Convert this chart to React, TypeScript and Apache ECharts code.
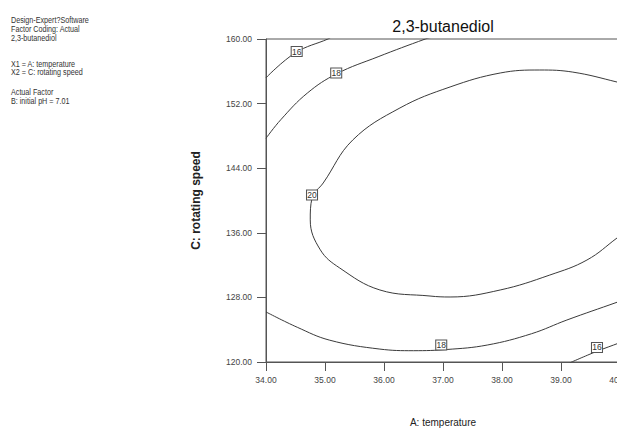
import React, { useEffect, useRef } from "react";
import * as echarts from "echarts";

// Axis ranges / ticks
const xMin = 34, xMax = 40, xStep = 1;
const yMin = 120, yMax = 160, yStep = 8;

// Contour lines: [temperature, rotating speed]
const contour16Top = [[34, 155.2], [34.5, 158.3], [35.05, 160], [35.1, 160.2]];
const contour18Top = [[34, 147.7], [34.25, 150.0], [34.7, 153.3], [35.2, 155.7], [35.9, 157.8], [36.7, 160], [36.8, 160.2]];
const contour20 = [
  [40.1, 154.3], [39.95, 154.67], [39.2, 155.9], [38.64, 156.16], [37.97, 155.79],
  [37.12, 154.06], [36.27, 151.46], [35.47, 147.49], [34.97, 142.17], [34.78, 140.3],
  [34.75, 137.6], [34.92, 133.9], [35.25, 131.64], [35.93, 128.92], [36.78, 128.17],
  [37.12, 128.05], [37.97, 128.92], [38.81, 130.77], [39.44, 132.63], [39.95, 135.36], [40.1, 136.2],
];
const contour18Bottom = [
  [34, 126.2], [34.53, 124.3], [35.08, 122.7], [35.93, 121.6], [36.5, 121.4],
  [37.07, 121.55], [37.75, 122.1], [38.5, 123.5], [39.1, 125.2], [39.95, 127.4], [40.1, 127.8],
];
const contour16Bottom = [[39.15, 119.9], [39.6, 121.3], [40, 122.4], [40.1, 122.7]];

// Contour value labels: [x, y, level]
const contourLabels = [
  [34.52, 158.45, 16],
  [35.19, 155.79, 18],
  [34.78, 140.68, 20],
  [36.97, 122.11, 18],
  [39.61, 121.8, 16],
];

const titleText = "2,3-butanediol";
const infoLines = [
  { text: "Design-Expert?Software", y: 20 },
  { text: "Factor Coding: Actual", y: 29 },
  { text: "2,3-butanediol", y: 38 },
  { text: "X1 = A: temperature", y: 64 },
  { text: "X2 = C: rotating speed", y: 72 },
  { text: "Actual Factor", y: 92 },
  { text: "B: initial pH = 7.01", y: 101 },
];

const FONT = "'Liberation Sans', Arial, sans-serif";
const NARROW = "'Liberation Sans Narrow', 'Liberation Sans', Arial, sans-serif";
const LINE = "#3a3a3a";

export default function App() {
  const ref = useRef<HTMLDivElement>(null);
  useEffect(() => {
    if (!ref.current) return;
    const chart = echarts.init(ref.current, undefined, { renderer: "svg" });
    const lineSeries = (data: number[][]) => ({
      type: "line",
      data,
      smooth: 0.4,
      showSymbol: false,
      symbol: "none",
      lineStyle: { color: LINE, width: 1 },
      silent: true,
      z: 2,
    });
    chart.setOption({
      animation: false,
      backgroundColor: "#ffffff",
      grid: {
        left: 266, top: 39, width: 354, height: 323,
        outerBoundsMode: "none", containLabel: false,
        show: true, borderColor: "#555", borderWidth: 1, backgroundColor: "transparent",
      },
      xAxis: {
        type: "value",
        min: xMin,
        max: xMax,
        interval: xStep,
        name: "A: temperature",
        nameLocation: "middle",
        nameGap: 55,
        nameTextStyle: { fontFamily: FONT, fontSize: 10, color: "#222" },
        axisLine: { show: true, lineStyle: { color: "#555", width: 1 } },
        axisTick: { show: true, length: 9, lineStyle: { color: "#555" } },
        axisLabel: { formatter: (v: number) => v.toFixed(2), margin: 13, fontFamily: NARROW, fontSize: 8.5, color: "#444" },
        splitLine: { show: false },
      },
      yAxis: {
        type: "value",
        min: yMin,
        max: yMax,
        interval: yStep,
        name: "C: rotating speed",
        nameLocation: "middle",
        nameGap: 64,
        nameRotate: 90,
        nameTextStyle: { fontFamily: FONT, fontSize: 12, fontWeight: "bold", color: "#222" },
        axisLine: { show: true, lineStyle: { color: "#555", width: 1 } },
        axisTick: { show: true, length: 9, lineStyle: { color: "#555" } },
        axisLabel: { formatter: (v: number) => v.toFixed(2), margin: 14, fontFamily: NARROW, fontSize: 8.5, color: "#444" },
        splitLine: { show: false },
      },
      series: [
        lineSeries(contour16Top),
        lineSeries(contour18Top),
        lineSeries(contour20),
        lineSeries(contour18Bottom),
        lineSeries(contour16Bottom),
        {
          type: "scatter",
          data: contourLabels,
          symbol: "rect",
          symbolSize: [11, 10],
          itemStyle: { color: "#ffffff", borderColor: "#555", borderWidth: 1, opacity: 1 },
          label: {
            show: true,
            position: "inside",
            formatter: (p: any) => String(p.value[2]),
            fontFamily: NARROW,
            fontSize: 8.5,
            color: "#333",
          },
          silent: true,
          z: 5,
        },
      ],
      graphic: [
        {
          type: "text",
          x: 443,
          y: 26,
          style: { text: titleText, font: `16px ${FONT}`, fill: "#111", align: "center", verticalAlign: "middle" },
        },
        ...infoLines.map((l) => ({
          type: "text",
          x: 11,
          y: l.y,
          scaleX: 0.8,
          style: { text: l.text, font: `9px ${FONT}`, fill: "#333", align: "left", verticalAlign: "middle" },
        })),
      ],
    });
    return () => chart.dispose();
  }, []);
  return <div ref={ref} style={{ position: "absolute", left: 0, top: 0, width: 617, height: 432 }} />;
}
